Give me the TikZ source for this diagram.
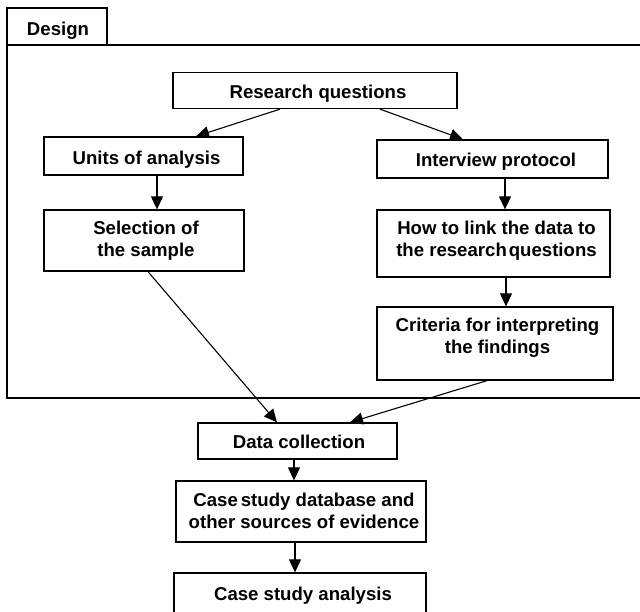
\documentclass[tikz,border=0pt]{standalone}
\usepackage{fontspec}
\setmainfont{Liberation Sans}
\usetikzlibrary{arrows.meta}
% node text: shifted right by #1, lowered by #2, lines centred
\newcommand\boxtext[3]{\hspace*{#1}\raisebox{-#2}[\height][\depth]{\begin{tabular}{@{}c@{}}#3\end{tabular}}\hspace*{-#1}}
\begin{document}
\begin{tikzpicture}[x=1pt,y=-1pt,
  font=\fontsize{18.6}{21.7}\selectfont\bfseries,
  box/.style={draw, line width=1.3pt, inner sep=0pt},
  flow/.style={line width=1.1pt, -{Triangle[length=13pt,width=12pt]}}]
\clip (0,0) rectangle (640,612);
\useasboundingbox (0,0) rectangle (640,612);
% outer design frame and its tab
\draw[line width=1.6pt] (660,45) -- (7,45) -- (7,398) -- (660,398);
\node[box, line width=1.6pt, minimum width=100pt, minimum height=37pt] (tab) at (57,26.5) {\boxtext{1pt}{4.8pt}{Design}};
% boxes
\node[box, minimum width=284pt, minimum height=36pt] (rq) at (315,90.5) {\boxtext{3pt}{3.5pt}{Research questions}};
\node[box, minimum width=199pt, minimum height=38pt] (units) at (143.5,156) {\boxtext{3pt}{4.4pt}{Units of analysis}};
\node[box, minimum width=231pt, minimum height=38pt] (interview) at (492.5,159) {\boxtext{3.5pt}{3.3pt}{Interview protocol}};
\node[box, minimum width=200pt, minimum height=61pt] (sel) at (144,240.5) {\boxtext{2pt}{1pt}{Selection of\\the sample}};
\node[box, minimum width=233pt, minimum height=67pt] (link) at (493.5,243.5) {\boxtext{3pt}{-2pt}{How to link the data to\\the research\hspace{2pt}questions}};
\node[box, minimum width=236pt, minimum height=73pt] (crit) at (495,343.5) {\boxtext{2.5pt}{-5.3pt}{Criteria for interpreting\\the findings}};
\node[box, minimum width=199pt, minimum height=36pt] (data) at (297.5,441) {\boxtext{1.5pt}{3pt}{Data collection}};
\node[box, minimum width=250pt, minimum height=61pt] (db) at (301,511.5) {\boxtext{3pt}{2pt}{Case\hspace{3pt}study database and\\other sources of evidence}};
\node[box, minimum width=252pt, minimum height=44.4pt] (ana) at (300,595.2) {\boxtext{3pt}{0.5pt}{Case study analysis}};
% connectors
\draw[flow] ([xshift=-35pt]rq.south) -- ([xshift=52.5pt]units.north);
\draw[flow] ([xshift=65pt]rq.south) -- ([xshift=-29.5pt]interview.north);
\draw[flow] ([xshift=13.5pt]units.south) -- ([xshift=13pt]sel.north);
\draw[flow] ([xshift=12.5pt]interview.south) -- ([xshift=11.5pt]link.north);
\draw[flow] ([xshift=12.5pt]link.south) -- ([xshift=11pt]crit.north);
\draw[flow] ([xshift=4pt]sel.south) -- ([xshift=-20.5pt]data.north);
\draw[flow] ([xshift=-8pt]crit.south) -- ([xshift=52.5pt]data.north);
\draw[flow] ([xshift=-3.5pt]data.south) -- ([xshift=-7pt]db.north);
\draw[flow] ([xshift=-6pt]db.south) -- ([xshift=-5pt]ana.north);
\end{tikzpicture}
\end{document}
